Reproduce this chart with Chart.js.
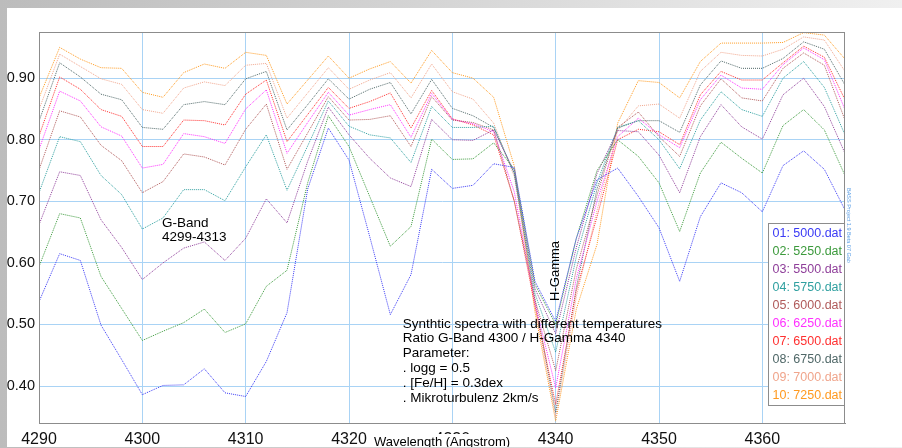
<!DOCTYPE html>
<html>
<head>
<meta charset="utf-8">
<script src="https://cdn.jsdelivr.net/npm/chart.js@4.4.1/dist/chart.umd.min.js"></script>
<style>
html, body { margin: 0; padding: 0; }
body { width: 902px; height: 448px; overflow: hidden; position: relative;
  background: linear-gradient(to right, #bcbcbc, #f0f0f0); }
#wrap { position: absolute; left: 7px; top: 8px; width: 895px; height: 439px; background: #fff; }
</style>
</head>
<body>
<div id="wrap"><canvas id="spectra" width="895" height="439"></canvas></div>
<script>
// wavelength grid (Angstrom)
var wavelengths = [4290, 4292, 4294, 4296, 4298, 4300, 4302, 4304, 4306, 4308,
                   4310, 4312, 4314, 4316, 4318, 4320, 4322, 4324, 4326, 4328,
                   4330, 4332, 4334, 4336, 4338, 4340, 4342, 4344, 4346, 4348,
                   4350, 4352, 4354, 4356, 4358, 4360, 4362, 4364, 4366, 4368];

var xTicks = [4290, 4300, 4310, 4320, 4330, 4340, 4350, 4360];
var yTicks = [0.4, 0.5, 0.6, 0.7, 0.8, 0.9];

var fileNames = ['01: 5000.dat', '02: 5250.dat', '03: 5500.dat', '04: 5750.dat', '05: 6000.dat',
                 '06: 6250.dat', '07: 6500.dat', '08: 6750.dat', '09: 7000.dat', '10: 7250.dat'];

var t5000 = [0.537, 0.615, 0.604, 0.499, 0.443, 0.386, 0.401, 0.402, 0.428, 0.389,
             0.383, 0.440, 0.519, 0.720, 0.819, 0.767, 0.643, 0.516, 0.581, 0.752,
             0.721, 0.726, 0.761, 0.755, 0.570, 0.505, 0.640, 0.735, 0.754, 0.708,
             0.657, 0.570, 0.675, 0.730, 0.714, 0.683, 0.758, 0.782, 0.752, 0.686];
var t5250 = [0.594, 0.680, 0.673, 0.578, 0.526, 0.474, 0.489, 0.503, 0.525, 0.487,
             0.501, 0.562, 0.588, 0.730, 0.839, 0.789, 0.708, 0.627, 0.659, 0.801,
             0.768, 0.769, 0.795, 0.752, 0.565, 0.500, 0.640, 0.750, 0.800, 0.773,
             0.730, 0.651, 0.746, 0.796, 0.770, 0.746, 0.823, 0.849, 0.816, 0.742];
var t5500 = [0.662, 0.748, 0.742, 0.670, 0.625, 0.573, 0.600, 0.624, 0.634, 0.604,
             0.640, 0.704, 0.665, 0.765, 0.853, 0.808, 0.770, 0.738, 0.724, 0.833,
             0.800, 0.799, 0.816, 0.748, 0.558, 0.485, 0.625, 0.745, 0.815, 0.813,
             0.775, 0.714, 0.805, 0.857, 0.821, 0.801, 0.873, 0.900, 0.854, 0.778];
var t5750 = [0.714, 0.805, 0.797, 0.742, 0.711, 0.655, 0.673, 0.719, 0.719, 0.701,
             0.756, 0.808, 0.718, 0.790, 0.863, 0.822, 0.808, 0.803, 0.763, 0.854,
             0.820, 0.820, 0.822, 0.745, 0.550, 0.455, 0.610, 0.730, 0.820, 0.831,
             0.800, 0.753, 0.832, 0.878, 0.849, 0.838, 0.900, 0.927, 0.885, 0.808];
var t6000 = [0.751, 0.847, 0.837, 0.791, 0.766, 0.714, 0.732, 0.777, 0.772, 0.759,
             0.817, 0.858, 0.752, 0.811, 0.870, 0.832, 0.833, 0.839, 0.789, 0.870,
             0.832, 0.828, 0.816, 0.700, 0.540, 0.425, 0.590, 0.710, 0.820, 0.845,
             0.805, 0.773, 0.855, 0.899, 0.868, 0.863, 0.916, 0.941, 0.921, 0.832];
var t6250 = [0.784, 0.879, 0.863, 0.821, 0.806, 0.754, 0.760, 0.810, 0.805, 0.794,
             0.850, 0.881, 0.778, 0.828, 0.877, 0.840, 0.849, 0.857, 0.804, 0.875,
             0.833, 0.826, 0.813, 0.715, 0.535, 0.397, 0.575, 0.700, 0.805, 0.835,
             0.808, 0.787, 0.865, 0.905, 0.884, 0.882, 0.922, 0.949, 0.930, 0.849];
var t6500 = [0.806, 0.902, 0.882, 0.849, 0.838, 0.789, 0.789, 0.832, 0.831, 0.824,
             0.874, 0.897, 0.797, 0.841, 0.885, 0.851, 0.862, 0.876, 0.819, 0.880,
             0.834, 0.824, 0.808, 0.700, 0.530, 0.370, 0.555, 0.675, 0.800, 0.817,
             0.813, 0.792, 0.873, 0.911, 0.897, 0.897, 0.925, 0.952, 0.934, 0.865];
var t6750 = [0.830, 0.925, 0.902, 0.874, 0.865, 0.820, 0.817, 0.857, 0.862, 0.857,
             0.899, 0.911, 0.816, 0.857, 0.899, 0.866, 0.882, 0.893, 0.842, 0.898,
             0.851, 0.839, 0.820, 0.745, 0.540, 0.357, 0.560, 0.720, 0.819, 0.831,
             0.831, 0.812, 0.889, 0.928, 0.916, 0.916, 0.932, 0.959, 0.947, 0.889];
var t7000 = [0.849, 0.939, 0.919, 0.899, 0.890, 0.849, 0.843, 0.884, 0.894, 0.888,
             0.921, 0.924, 0.835, 0.876, 0.917, 0.882, 0.897, 0.909, 0.868, 0.923,
             0.878, 0.866, 0.827, 0.740, 0.530, 0.350, 0.545, 0.685, 0.815, 0.855,
             0.858, 0.835, 0.911, 0.942, 0.937, 0.936, 0.947, 0.967, 0.962, 0.911];
var t7250 = [0.868, 0.950, 0.931, 0.917, 0.916, 0.877, 0.869, 0.909, 0.923, 0.916,
             0.942, 0.937, 0.858, 0.897, 0.936, 0.900, 0.915, 0.927, 0.892, 0.945,
             0.909, 0.900, 0.869, 0.757, 0.520, 0.343, 0.525, 0.630, 0.827, 0.896,
             0.893, 0.868, 0.927, 0.957, 0.957, 0.957, 0.958, 0.974, 0.970, 0.931];

var series = [t5000, t5250, t5500, t5750, t6000, t6250, t6500, t6750, t7000, t7250];
var colors = ['#3a3af5', '#3c9a3c', '#8f3f9a', '#30a0a0', '#b05a5a',
              '#ff30ff', '#ff3030', '#506868', '#f0a58c', '#ff9a20'];

var noteLines = ['Synthtic spectra with different temperatures',
                 'Ratio G-Band 4300 / H-Gamma 4340',
                 'Parameter:',
                 '. logg = 0.5',
                 '. [Fe/H] = 0.3dex',
                 '. Mikroturbulenz 2km/s'];

var FONT = "'Liberation Sans', Arial, sans-serif";

function buildDatasets() {
  return series.map(function (vals, i) {
    return {
      label: fileNames[i],
      data: vals.map(function (v, k) { return { x: wavelengths[k], y: v }; }),
      borderColor: colors[i],
      borderWidth: 1,
      borderDash: [1, 1],
      pointRadius: 0,
      tension: 0,
      fill: false
    };
  });
}

var extras = {
  id: 'extras',
  afterDraw: function (chart) {
    var ctx = chart.ctx, a = chart.chartArea;
    var sx = chart.scales.x, sy = chart.scales.y;
    ctx.save();

    // plot frame
    ctx.strokeStyle = '#8c8c8c';
    ctx.lineWidth = 1;
    ctx.strokeRect(a.left + 0.5, a.top + 0.5, a.right - a.left - 1, a.bottom - a.top);

    ctx.fillStyle = '#000';
    ctx.textBaseline = 'middle';
    ctx.textAlign = 'left';

    // G-Band label
    ctx.font = '13.5px ' + FONT;
    ctx.fillText('G-Band', sx.getPixelForValue(4301.9), sy.getPixelForValue(0.665));
    ctx.fillText('4299-4313', sx.getPixelForValue(4301.9), sy.getPixelForValue(0.641));

    // note block
    var nx = sx.getPixelForValue(4325.2), ny = sy.getPixelForValue(0.501);
    noteLines.forEach(function (t, i) { ctx.fillText(t, nx, ny + i * 14.9); });

    // H-Gamma, vertical
    ctx.save();
    ctx.translate(sx.getPixelForValue(4340), sy.getPixelForValue(0.587));
    ctx.rotate(-Math.PI / 2);
    ctx.textAlign = 'center';
    ctx.font = '13px ' + FONT;
    ctx.fillText('H-Gamma', 0, 0);
    ctx.restore();

    // legend box
    var bw = 76, bh = 182, bx = a.right - bw - 1, by = a.top + 191;
    ctx.fillStyle = '#fff';
    ctx.fillRect(bx, by, bw, bh);
    ctx.strokeStyle = '#8c8c8c';
    ctx.strokeRect(bx + 0.5, by + 0.5, bw, bh);
    ctx.font = '12.5px ' + FONT;
    chart.data.datasets.forEach(function (ds, i) {
      ctx.fillStyle = ds.borderColor;
      ctx.fillText(ds.label, bx + 4.5, by + 10.5 + i * 18);
    });

    // axis title over the bottom labels
    var tx = 435, ty = 434;
    ctx.font = '13px ' + FONT;
    var tw = ctx.measureText('Wavelength (Angstrom)').width;
    ctx.fillStyle = '#fff';
    ctx.fillRect(tx - tw / 2 - 2, ty - 8, tw + 4, 20);
    ctx.fillStyle = '#000';
    ctx.textAlign = 'center';
    ctx.fillText('Wavelength (Angstrom)', tx, ty);

    // tiny program tag at the right edge
    ctx.save();
    ctx.translate(a.right + 4, 180);
    ctx.rotate(Math.PI / 2);
    ctx.textAlign = 'left';
    ctx.font = '5.5px ' + FONT;
    ctx.fillStyle = '#5a9ee6';
    ctx.fillText('BASS Project 1.9 Beta 07 Gab', 0, 0);
    ctx.restore();

    ctx.restore();
  }
};

function printChart() {
  var ctx = document.getElementById('spectra');
  var mychart = new Chart(ctx, {
    type: 'line',
    data: { datasets: buildDatasets() },
    options: {
      responsive: false,
      animation: false,
      layout: { padding: { top: 24, right: 57, left: 0, bottom: 0 } },
      plugins: { legend: { display: false }, tooltip: { enabled: false } },
      scales: {
        x: {
          type: 'linear', min: 4290, max: 4368,
          afterBuildTicks: function (s) { s.ticks = xTicks.map(function (v) { return { value: v }; }); },
          afterFit: function (s) { s.height = 24; },
          grid: { color: '#a9d3f5', drawTicks: false },
          border: { color: '#8c8c8c' },
          ticks: {
            padding: 7, maxRotation: 0, autoSkip: false, color: '#111',
            font: { family: FONT, size: 16 },
            callback: function (v) { return String(v); }
          }
        },
        y: {
          min: 0.34, max: 0.975,
          afterBuildTicks: function (s) { s.ticks = yTicks.map(function (v) { return { value: v }; }); },
          afterFit: function (s) { s.width = 32; },
          grid: { color: '#a9d3f5', drawTicks: false },
          border: { color: '#8c8c8c' },
          ticks: {
            padding: 4, color: '#111',
            font: { family: FONT, size: 14.5 },
            callback: function (v) { return v.toFixed(2); }
          }
        }
      }
    },
    plugins: [extras]
  });
}

printChart();
</script>
</body>
</html>
